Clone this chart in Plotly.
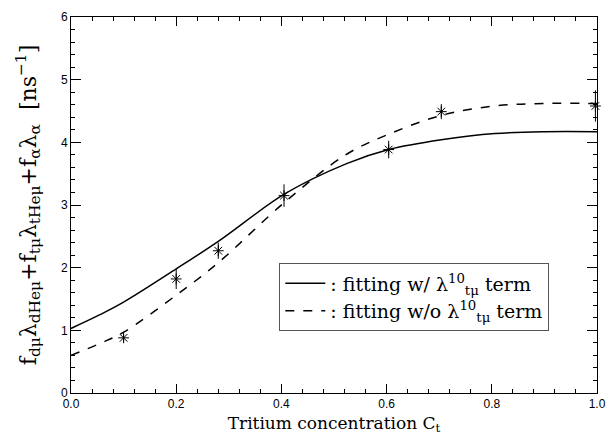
import plotly.graph_objects as go

# Measured data points (Tritium concentration, rate) with error bars
data_x = [0.10, 0.20, 0.28, 0.405, 0.604, 0.704, 0.997]
data_y = [0.88, 1.82, 2.27, 3.15, 3.885, 4.49, 4.58]
data_err = [0.06, 0.16, 0.13, 0.18, 0.14, 0.12, 0.25]

# Fit curves
fit_x = [0.0, 0.055, 0.1, 0.2, 0.28, 0.407, 0.524, 0.604, 0.704, 0.806, 0.9, 1.0]
fit_with = [1.03, 1.25, 1.45, 1.98, 2.42, 3.18, 3.66, 3.885, 4.04, 4.14, 4.17, 4.17]
fit_without = [0.60, 0.79, 0.97, 1.56, 2.08, 3.05, 3.81, 4.13, 4.43, 4.58, 4.62, 4.62]

x_ticks = [0.0, 0.2, 0.4, 0.6, 0.8, 1.0]
x_tick_labels = ["0.0", "0.2", "0.4", "0.6", "0.8", "1.0"]
y_ticks = [0, 1, 2, 3, 4, 5, 6]
y_tick_labels = ["0", "1", "2", "3", "4", "5", "6"]

serif = "DejaVu Serif"

fig = go.Figure()
fig.add_trace(go.Scatter(
    x=fit_x, y=fit_with, mode="lines",
    line=dict(color="black", width=1.5, shape="spline", smoothing=1.0),
    name=": fitting w/ λ<sup>10</sup><sub>tμ</sub> term"))
fig.add_trace(go.Scatter(
    x=fit_x, y=fit_without, mode="lines",
    line=dict(color="black", width=1.5, dash="dash", shape="spline", smoothing=1.0),
    name=": fitting w/o λ<sup>10</sup><sub>tμ</sub> term"))
fig.add_trace(go.Scatter(
    x=data_x, y=data_y, mode="markers", showlegend=False, cliponaxis=False,
    marker=dict(symbol="asterisk-open", size=9, color="black", line=dict(color="black", width=1)),
    error_y=dict(type="data", array=data_err, visible=True, color="black", thickness=1, width=0)))

axis_common = dict(
    showgrid=False, zeroline=False, showline=True, linecolor="black", linewidth=1,
    mirror="ticks", ticks="inside", tickcolor="black",
    tickfont=dict(family="Liberation Sans", size=12, color="black"),
)

fig.update_xaxes(
    range=[0, 1.0], tickvals=x_ticks, ticktext=x_tick_labels, ticklen=9,
    minor=dict(dtick=0.04, ticks="inside", ticklen=4, tickcolor="black"),
    title=dict(text="Tritium concentration C<sub>t</sub>", font=dict(family=serif, size=17, color="black"), standoff=6),
    **axis_common)
fig.update_yaxes(
    range=[0, 6], tickvals=y_ticks, ticktext=y_tick_labels, ticklen=10,
    minor=dict(dtick=0.2, ticks="inside", ticklen=4, tickcolor="black"),
    title=dict(text="f<sub>dμ</sub>λ<sub>dHeμ</sub>+f<sub>tμ</sub>λ<sub>tHeμ</sub>+f<sub>α</sub>λ<sub>α</sub>  [ns<sup>−1</sup>]",
               font=dict(family=serif, size=22, color="black"), standoff=18),
    **axis_common)

fig.update_layout(
    width=616, height=443,
    margin=dict(l=71, r=14, t=10, b=50),
    paper_bgcolor="white", plot_bgcolor="white",
    showlegend=True,
    legend=dict(x=0.396, y=0.345, xanchor="left", yanchor="top",
                bordercolor="#555555", borderwidth=1, bgcolor="white",
                font=dict(family=serif, size=19, color="black"),
                tracegroupgap=0, itemwidth=40),
)

fig.write_html("out.html", config={"displayModeBar": False},
               post_script="document.body.style.margin='0';document.body.style.overflow='hidden';")
